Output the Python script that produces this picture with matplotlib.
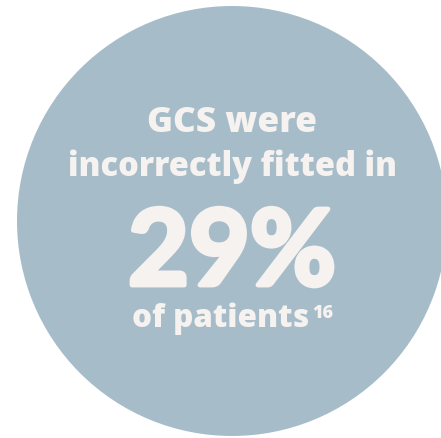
"""Stat callout: share of patients with incorrectly fitted GCS, in a filled circle."""

import matplotlib.pyplot as plt
import matplotlib.patheffects as pe
from matplotlib.patches import Circle

# content
headline = ["GCS were", "incorrectly fitted in"]
percent = 29
footer = "of patients"
reference = "16"

# look
circle_color = "#a7bcc9"
text_color = "#f6f2f0"
font = "Open Sans"
weight = "extra bold"

W, H = 441, 439
fig = plt.figure(figsize=(W / 100, H / 100), dpi=100)
ax = fig.add_axes([0, 0, 1, 1])
ax.set_xlim(0, W)
ax.set_ylim(H, 0)
ax.axis("off")

cx, cy, r = 232, 222, 215
ax.add_patch(Circle((cx, cy), r, color=circle_color, lw=0))

renderer = fig.canvas.get_renderer()


def fitted_text(x, y, s, width, ha="center", size=20, family=font, wt=weight):
    """Place a text and rescale it so it spans about `width` pixels."""
    t = ax.text(x, y, s, fontsize=size, color=text_color, family=family,
                weight=wt, ha=ha, va="baseline")
    w = t.get_window_extent(renderer).width
    t.set_fontsize(size * width / w)
    return t


fitted_text(cx, 132, headline[0], 170)
fitted_text(cx, 176, headline[1], 329)
# the big number: rounder, taller face, thickened with a stroke
big = fitted_text(cx, 286, f"{percent}%", 208, size=80, family="Lato", wt="bold")
big.set_path_effects([pe.withStroke(linewidth=3.5, foreground=text_color)])
fitted_text(309, 327, footer, 177, ha="right")
fitted_text(312, 318, reference, 21, ha="left", size=9)

fig.savefig("out.png", dpi=100)
